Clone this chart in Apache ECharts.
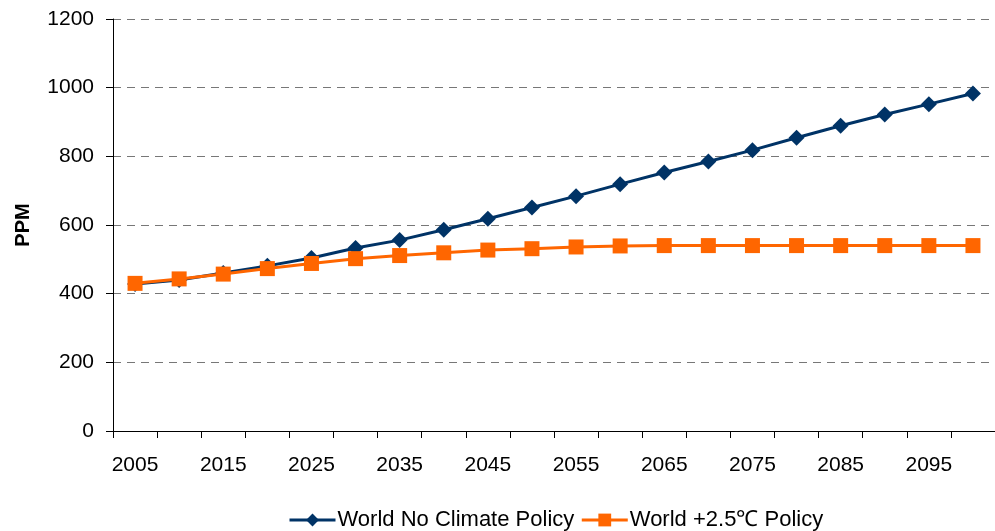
<!DOCTYPE html>
<html>
<head>
<meta charset="utf-8">
<script src="https://cdn.jsdelivr.net/npm/echarts@6/dist/echarts.min.js"></script>
<style>
  html, body { margin: 0; padding: 0; background: #ffffff; }
  #chart { width: 995px; height: 531px; }
</style>
</head>
<body>
<div id="chart"></div>
<script>
// Atmospheric CO2 concentration projections, 2005-2100 (ppm)
const years = ['2005', '2010', '2015', '2020', '2025', '2030', '2035', '2040', '2045', '2050',
               '2055', '2060', '2065', '2070', '2075', '2080', '2085', '2090', '2095', '2100'];
const noPolicy = [428, 440, 460, 481, 504, 533, 556, 586, 618, 651,
                  684, 719, 753, 785, 818, 854, 889, 922, 952, 983];
const policy25 = [430, 443, 457, 473, 488, 502, 511, 519, 527, 531,
                  536, 539, 540, 540, 540, 540, 540, 540, 540, 540];
const seriesNames = ['World No Climate Policy', 'World +2.5\u2103 Policy'];
const yTicks = { min: 0, max: 1200, step: 200 };

const font = 'Liberation Sans, Arial, sans-serif';
const chart = echarts.init(document.getElementById('chart'), null, { renderer: 'canvas' });

chart.setOption({
  animation: false,
  backgroundColor: '#ffffff',
  grid: { left: 113, top: 19, width: 887, height: 412, containLabel: false },
  legend: {
    top: 504,
    left: 283,
    itemWidth: 46,
    itemHeight: 16,
    itemGap: 6,
    lineStyle: { width: 3 },
    textStyle: { fontFamily: font, fontSize: 22, color: '#000', padding: [0, 0, 0, -3] },
    data: seriesNames
  },
  xAxis: {
    type: 'category',
    data: years,
    boundaryGap: true,
    axisLine: { lineStyle: { color: '#000', width: 1 } },
    axisTick: { show: true, interval: 0, length: 7, lineStyle: { color: '#000' } },
    axisLabel: { interval: 1, margin: 24, fontFamily: font, fontSize: 21, color: '#000' },
    splitLine: { show: false }
  },
  yAxis: {
    type: 'value',
    min: yTicks.min,
    max: yTicks.max,
    interval: yTicks.step,
    name: 'PPM',
    nameLocation: 'middle',
    nameGap: 80,
    nameTextStyle: { fontFamily: font, fontSize: 20, fontWeight: 'bold', color: '#000' },
    axisLine: { show: true, lineStyle: { color: '#000', width: 1 } },
    axisTick: { show: true, length: 7, lineStyle: { color: '#000' } },
    axisLabel: {
      margin: 19, fontFamily: font, fontSize: 21, color: '#000',
      formatter: function (v) { return String(v); }
    },
    splitLine: { show: true, lineStyle: { color: '#777777', type: [8, 6], width: 1 } }
  },
  series: [
    {
      name: seriesNames[0],
      type: 'line',
      data: noPolicy,
      symbol: 'diamond',
      symbolSize: 16,
      color: '#003366',
      lineStyle: { width: 3, color: '#003366' },
      itemStyle: { color: '#003366' },
      z: 2
    },
    {
      name: seriesNames[1],
      type: 'line',
      data: policy25,
      symbol: 'rect',
      symbolSize: 15,
      color: '#ff6600',
      lineStyle: { width: 3, color: '#ff6600' },
      itemStyle: { color: '#ff6600' },
      z: 3
    }
  ]
});
</script>
</body>
</html>
